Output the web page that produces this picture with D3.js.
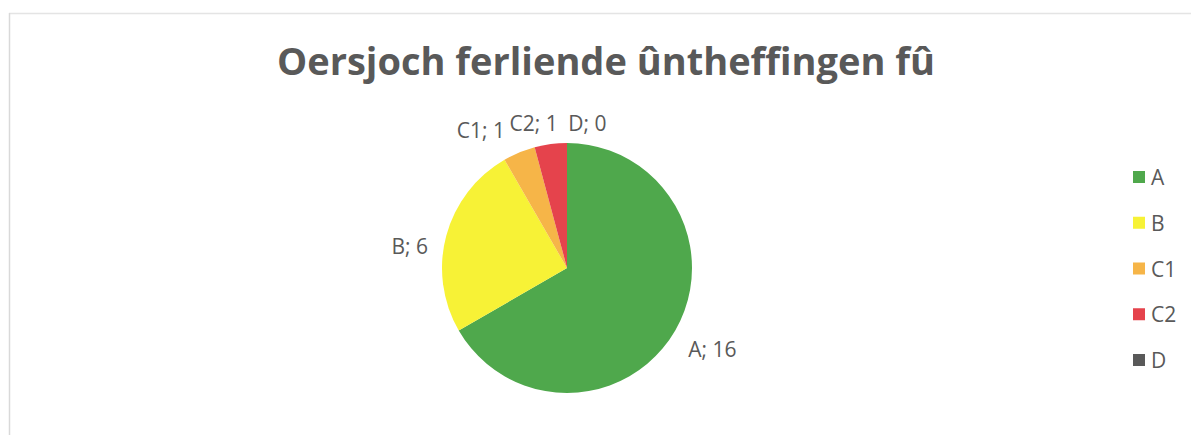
<!DOCTYPE html>
<html><head><meta charset="utf-8">
<script src="https://cdn.jsdelivr.net/npm/d3@7"></script>
<style>body{margin:0;background:#fff}svg{display:block}</style>
</head><body>
<svg id="c" width="1191" height="435"></svg>
<script>
const title = "Oersjoch ferliende ûntheffingen fû";
const categories = ["A", "B", "C1", "C2", "D"];
const values = [16, 6, 1, 1, 0];
const colors = ["#4fa84c", "#f7f236", "#f6b548", "#e5434c", "#595959"];
// label placement: angle (deg, clockwise from top) and distance from centre, in units of radius
const labelAngle = [119, 278, 328, 347, 8];
const labelDist = [1.33, 1.27, 1.30, 1.19, 1.17];

const svg = d3.select("#c");
const W = 1191, H = 435;
const cx = 567, cy = 268, R = 125;
const font = "'Open Sans', sans-serif";
const textCol = "#595959";

// faint frame
svg.append("line").attr("x1", 9).attr("x2", W).attr("y1", 13.5).attr("y2", 13.5).attr("stroke", "#e4e4e4").attr("stroke-width", 1.5);
svg.append("line").attr("x1", 9.5).attr("x2", 9.5).attr("y1", 13).attr("y2", H).attr("stroke", "#d9d9d9").attr("stroke-width", 1.5);

svg.append("text").attr("x", 606).attr("y", 75).attr("text-anchor", "middle")
  .attr("font-family", font).attr("font-weight", "bold").attr("font-size", 38)
  .attr("fill", textCol).text(title);

const data = categories.map((c, i) => ({cat: c, val: values[i], col: colors[i], la: labelAngle[i], ld: labelDist[i]}));
const pie = d3.pie().value(d => d.val).sort(null);
const arc = d3.arc().innerRadius(0).outerRadius(R);
const g = svg.append("g").attr("transform", `translate(${cx},${cy})`);
const arcs = pie(data);
g.selectAll("path").data(arcs.filter(a => a.data.val > 0)).join("path")
  .attr("d", arc).attr("fill", d => d.data.col);

g.selectAll("text").data(arcs).join("text")
  .attr("x", d => Math.sin(d.data.la * Math.PI / 180) * R * d.data.ld)
  .attr("y", d => -Math.cos(d.data.la * Math.PI / 180) * R * d.data.ld)
  .attr("text-anchor", "middle").attr("dominant-baseline", "central")
  .attr("font-family", font).attr("font-size", 21).attr("fill", textCol)
  .text(d => `${d.data.cat}; ${d.data.val}`);

const leg = svg.append("g").attr("transform", "translate(1133,177)");
const ly = d3.scalePoint().domain(categories).range([0, 183]);
const li = leg.selectAll("g").data(data).join("g").attr("transform", d => `translate(0,${ly(d.cat)})`);
li.append("rect").attr("x", 0).attr("y", -6).attr("width", 12).attr("height", 12).attr("fill", d => d.col);
li.append("text").attr("x", 18).attr("y", 0).attr("dominant-baseline", "central")
  .attr("font-family", font).attr("font-size", 21).attr("fill", textCol).text(d => d.cat);
</script>
</body></html>
